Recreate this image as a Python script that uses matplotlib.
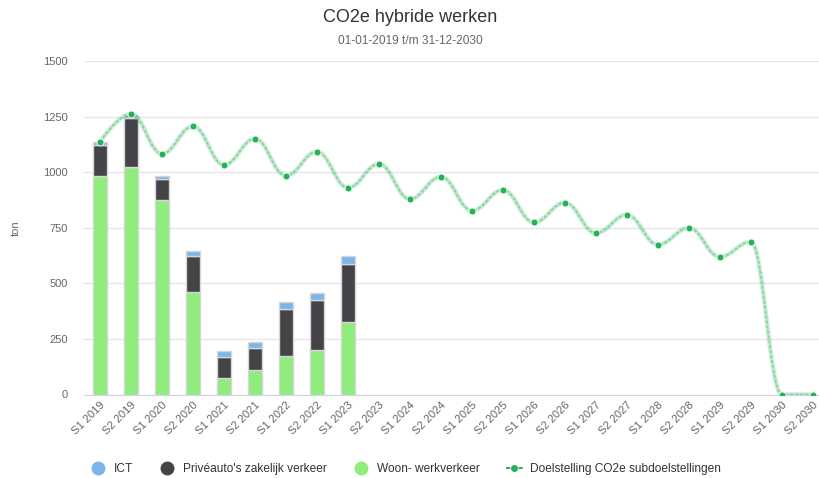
import numpy as np
import matplotlib
matplotlib.use("Agg")
import matplotlib.pyplot as plt
from matplotlib.lines import Line2D
from matplotlib.path import Path
from matplotlib.patches import PathPatch

plt.rcParams["font.family"] = ["Liberation Sans", "DejaVu Sans"]

periods = [f"S{h} {y}" for y in range(2019, 2031) for h in (1, 2)]
woon = [985, 1024, 873, 460, 72, 110, 172, 200, 327]
prive = [135, 221, 97, 162, 96, 100, 213, 224, 261]
ict = [15, 12, 12, 25, 27, 25, 32, 33, 34]
target = [1136, 1262, 1083, 1206, 1033, 1150, 984, 1092, 930, 1037, 879, 979,
          827, 920, 774, 863, 726, 808, 674, 749, 619, 687, 0, 0]

C_ICT = "#7cb5ec"
C_PRIVE = "#434348"
C_WOON = "#90ed7d"
C_TGT = "#22b357"


def spline_path(xs, ys, smoothing=1.5):
    # highcharts-style spline control points
    n = len(xs)
    lc = [None] * n
    rc = [None] * n
    denom = smoothing + 1
    for i in range(1, n - 1):
        px, py = xs[i], ys[i]
        lx, ly = xs[i - 1], ys[i - 1]
        nx, ny = xs[i + 1], ys[i + 1]
        lcx = (smoothing * px + lx) / denom
        lcy = (smoothing * py + ly) / denom
        rcx = (smoothing * px + nx) / denom
        rcy = (smoothing * py + ny) / denom
        corr = 0
        if rcx != lcx:
            corr = (rcy - lcy) * (rcx - px) / (rcx - lcx) + py - rcy
        lcy += corr
        rcy += corr
        if lcy > ly and lcy > py:
            lcy = max(ly, py); rcy = 2 * py - lcy
        elif lcy < ly and lcy < py:
            lcy = min(ly, py); rcy = 2 * py - lcy
        if rcy > ny and rcy > py:
            rcy = max(ny, py); lcy = 2 * py - rcy
        elif rcy < ny and rcy < py:
            rcy = min(ny, py); lcy = 2 * py - rcy
        lc[i] = (lcx, lcy)
        rc[i] = (rcx, rcy)
    verts = [(xs[0], ys[0])]
    codes = [Path.MOVETO]
    for i in range(1, n):
        c1 = rc[i - 1] or (xs[i - 1], ys[i - 1])
        c2 = lc[i] or (xs[i], ys[i])
        verts += [c1, c2, (xs[i], ys[i])]
        codes += [Path.CURVE4] * 3
    return Path(verts, codes)


fig = plt.figure(figsize=(8.2, 4.78), dpi=100)
ax = fig.add_axes([84.5 / 820, 1 - 394.5 / 478, 1 - 84.5 / 820, (394.5 - 61) / 478])

x = np.arange(len(periods))
xb = x[:len(woon)]
w = 0.47
bot2 = np.array(woon)
bot3 = bot2 + np.array(prive)
ax.bar(xb, woon, w, color=C_WOON, edgecolor="#d6d6d6", lw=1, zorder=2)
ax.bar(xb, prive, w, bottom=bot2, color=C_PRIVE, edgecolor="#d6d6d6", lw=1, zorder=2)
ax.bar(xb, ict, w, bottom=bot3, color=C_ICT, edgecolor="#d6d6d6", lw=1, zorder=2)

path = spline_path(list(x.astype(float)), list(map(float, target)))
ax.add_patch(PathPatch(path, fill=False, edgecolor=C_TGT, alpha=0.25, lw=3.2, zorder=3))
ax.add_patch(PathPatch(path, fill=False, edgecolor="#86d39d", lw=1.2, ls=(0, (2, 1)), zorder=3))
ax.plot(x, target, ls="none", marker="o", ms=5, color=C_TGT, mec="white", mew=0.6, zorder=4)

ax.set_xlim(-0.5, 23.23)
ax.set_ylim(0, 1500)
ax.set_yticks(range(0, 1501, 250))
ax.yaxis.grid(True, color="#e6e6e6", lw=1)
ax.set_axisbelow(True)
for s in ("top", "right", "left"):
    ax.spines[s].set_visible(False)
ax.spines["bottom"].set_color("#ccd6eb")
ax.tick_params(axis="y", length=0, pad=12, labelsize=8, labelcolor="#666666")
ax.tick_params(axis="x", length=0, pad=4, labelsize=8, labelcolor="#666666")
ax.set_xticks(x)
ax.set_xticklabels(periods, rotation=45, ha="right", rotation_mode="anchor")
ax.set_ylabel("ton", fontsize=8, color="#666666", labelpad=16)

fig.text(0.5, 1 - 18 / 478, "CO2e hybride werken", ha="center", va="center",
         fontsize=13, color="#333333")
fig.text(0.5, 1 - 41 / 478, "01-01-2019 t/m 31-12-2030", ha="center", va="center",
         fontsize=8.6, color="#666666")

handles = [
    Line2D([], [], ls="none", marker="o", ms=9, color=C_ICT),
    Line2D([], [], ls="none", marker="o", ms=9, color=C_PRIVE),
    Line2D([], [], ls="none", marker="o", ms=9, color=C_WOON),
    Line2D([], [], ls=(0, (2, 1)), lw=1.5, marker="o", ms=4, color=C_TGT),
]
labels = ["ICT", "Privéauto's zakelijk verkeer", "Woon- werkverkeer",
          "Doelstelling CO2e subdoelstellingen"]
fig.legend(handles, labels, loc="center", bbox_to_anchor=(0.494, 1 - 469 / 478), ncol=4,
           frameon=False, fontsize=8.6, labelcolor="#333333", handlelength=1.4,
           handletextpad=0.6, columnspacing=2.2)

fig.savefig("out.png", dpi=100)
